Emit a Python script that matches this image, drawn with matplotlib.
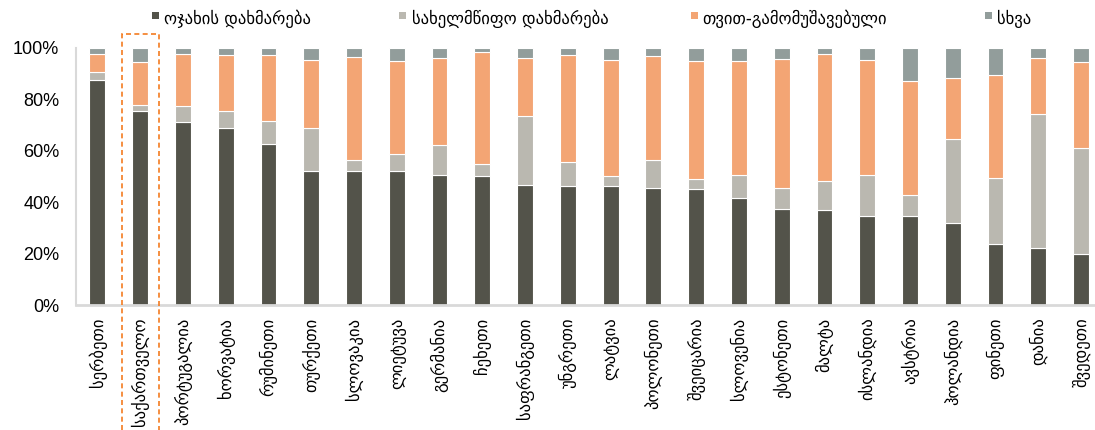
import matplotlib
matplotlib.use("Agg")
import matplotlib.pyplot as plt
from matplotlib.patches import Rectangle
import numpy as np

plt.rcParams['font.family'] = ['Liberation Sans', 'DejaVu Sans']

countries = ["სერბეთი", "საქართველო", "პორტუგალია", "ხორვატია", "რუმინეთი", "თურქეთი",
             "სლოვაკია", "ლიეტუვა", "გერმანია", "ჩეხეთი", "საფრანგეთი", "უნგრეთი",
             "ლატვია", "პოლონეთი", "შვეიცარია", "სლოვენია", "ესტონეთი", "მალტა",
             "ისლანდია", "ავსტრია", "ჰოლანდია", "ფინეთი", "დანია", "შვედეთი"]

family = [87.5, 75.6, 71.2, 68.8, 62.6, 52.3, 52.2, 52.1, 50.4, 50.1, 46.5, 46.4,
          46.2, 45.7, 45.3, 41.6, 37.3, 36.9, 34.7, 34.5, 32.1, 23.9, 22.2, 19.7]
state = [3.1, 2.1, 6.1, 6.8, 9.0, 16.4, 4.4, 6.7, 11.9, 4.8, 27.0, 9.3,
         4.1, 10.9, 3.8, 9.0, 8.3, 11.3, 15.8, 8.4, 32.6, 25.5, 52.3, 41.2]
self_earned = [7.1, 16.8, 20.5, 21.7, 25.7, 26.6, 40.0, 36.3, 33.9, 43.4, 22.6, 41.6,
               44.9, 40.2, 46.0, 44.5, 50.1, 49.3, 44.7, 44.1, 23.7, 40.2, 21.6, 33.5]
other = [2.3, 5.5, 2.2, 2.7, 2.7, 4.7, 3.4, 4.9, 3.8, 1.7, 3.9, 2.7,
         4.8, 3.2, 4.9, 4.9, 4.3, 2.5, 4.8, 13.0, 11.6, 10.4, 3.9, 5.6]

series_names = ["ოჯახის დახმარება", "სახელმწიფო დახმარება", "თვით-გამომუშავებული", "სხვა"]
colors = ["#53534A", "#BAB8B0", "#F3A574", "#929D9B"]
yticks = [0, 20, 40, 60, 80, 100]
ytick_labels = ["0%", "20%", "40%", "60%", "80%", "100%"]

W, H = 1095, 430
fig = plt.figure(figsize=(W / 100, H / 100), dpi=100)
ax = fig.add_axes([76 / W, 125 / H, 1026.5 / W, 257 / H])

x = np.arange(len(countries))
data = [family, state, self_earned, other]
bottom = np.zeros(len(countries))
for vals, col in zip(data, colors):
    v = np.array(vals) / 100.0
    ax.bar(x, v, width=0.37, bottom=bottom, color=col, edgecolor="white", linewidth=0.8)
    bottom += v

ax.set_xlim(-0.5, len(countries) - 0.5)
ax.set_ylim(0, 1.0)
ax.set_yticks([t / 100 for t in yticks])
ax.set_yticklabels(ytick_labels, fontsize=13)
ax.set_xticks(x)
ax.set_xticklabels(countries, rotation=90, fontsize=12, family=['DejaVu Sans'])
ax.tick_params(axis='y', length=0, pad=12)
ax.tick_params(axis='x', length=0, pad=9)
for s in ["top", "right"]:
    ax.spines[s].set_visible(False)
ax.spines["left"].set_color("#D9D9D9")
ax.spines["left"].set_linewidth(1.5)
ax.spines["bottom"].set_color("#D9D9D9")
ax.spines["bottom"].set_linewidth(2)

# dashed highlight around Georgia
rect = Rectangle((1 - 0.435, -1.0), 0.87, 1.0 + 1.054, fill=False, edgecolor="#F47B20",
                 linestyle=(0, (3, 2)), linewidth=1.2, clip_on=False, zorder=5)
ax.add_patch(rect)

# legend laid out along the top
sq_left = [151.7, 399.3, 690.7, 985.0]
txt_left = [164, 412, 702, 997]
for name, col, sx, tx in zip(series_names, colors, sq_left, txt_left):
    fig.patches.append(Rectangle((sx / W, 1 - 19.3 / H), 6.8 / W, 6.8 / H,
                                 transform=fig.transFigure, facecolor=col,
                                 edgecolor='none', figure=fig))
    fig.text(tx / W, 1 - 19 / H, name, ha='left', va='center', fontsize=12,
             family=['DejaVu Sans'])

fig.savefig("out.png", dpi=100)
